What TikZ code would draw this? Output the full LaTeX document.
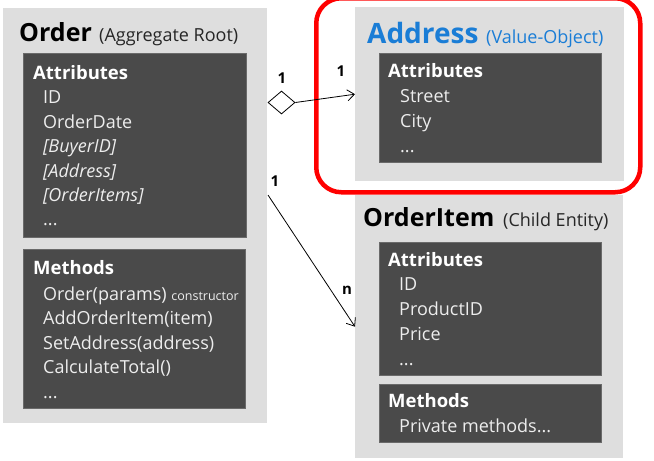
\documentclass[tikz,border=0pt]{standalone}
\usepackage{fontspec}
\setmainfont{Open Sans}
\usetikzlibrary{shapes.geometric,arrows.meta}
\definecolor{outerg}{HTML}{DEDEDE}
\definecolor{darkg}{HTML}{4A4A4A}
\definecolor{darkedge}{HTML}{6A6A6A}
\definecolor{itemtxt}{HTML}{EDEDED}
\definecolor{addrblue}{HTML}{1A7DD6}
\definecolor{hired}{HTML}{FF0000}
\tikzset{
  outerbox/.style={fill=outerg, draw=none, anchor=north west, inner sep=0pt},
  darkbox/.style={fill=darkg, draw=darkedge, line width=0.6pt, anchor=north west, inner sep=0pt},
  ttl/.style={anchor=base west, inner sep=0pt, font=\fontsize{25}{28}\bfseries\selectfont, text=black},
  sub/.style={anchor=base west, inner sep=0pt, font=\fontsize{18}{20}\selectfont, text=black!85},
  hdr/.style={anchor=base west, inner sep=0pt, font=\fontsize{18.5}{20}\bfseries\selectfont, text=white},
  itm/.style={anchor=base west, inner sep=0pt, font=\fontsize{18}{20}\selectfont, text=itemtxt},
  itmi/.style={itm, font=\fontsize{18}{20}\itshape\selectfont},
  mult/.style={inner sep=0pt, font=\fontsize{15}{17}\bfseries\selectfont, text=black},
  conn/.style={draw=black, line width=0.8pt, -{Straight Barb[length=7pt,width=11pt]}},
}
\begin{document}
\begin{tikzpicture}[x=1pt,y=-1pt]
\useasboundingbox (0,0) rectangle (654,461);
% Order
\node[outerbox, minimum width=264pt, minimum height=415pt] (order) at (3,8) {};
\node[ttl] (ordt) at (19,41) {Order};
\node[sub] (ords) at (99,41) {(Aggregate Root)};
\node[darkbox, minimum width=223pt, minimum height=184pt] (ordattr) at (23,53) {};
\node[hdr] (oah) at (33,79) {Attributes};
\node[itm] (oa1) at (43,103) {ID};
\node[itm] (oa2) at (43,128) {OrderDate};
\node[itmi] (oa3) at (43,152.5) {[BuyerID]};
\node[itmi] (oa4) at (43,177) {[Address]};
\node[itmi] (oa5) at (43,201) {[OrderItems]};
\node[itm] (oa6) at (43,225) {...};
\node[darkbox, minimum width=222pt, minimum height=159pt] (ordmeth) at (23,249) {};
\node[hdr] (omh) at (33,274) {Methods};
\node[itm] (om1) at (43,300) {Order(params) {\fontsize{12.5}{14}\selectfont constructor}};
\node[itm] (om2) at (43,324) {AddOrderItem(item)};
\node[itm] (om3) at (43,349) {SetAddress(address)};
\node[itm] (om4) at (43,373) {CalculateTotal()};
\node[itm] (om5) at (43,398) {...};
% Address
\node[anchor=north west, inner sep=0pt, draw=hired, line width=4.5pt, rounded corners=25pt, minimum width=324pt, minimum height=194pt] (redbox) at (314,-4) {};
\node[outerbox, minimum width=269pt, minimum height=174pt] (addr) at (355,7) {};
\node[ttl, text=addrblue, font=\fontsize{28}{30}\bfseries\selectfont] (addt) at (367,43) {Address};
\node[sub, text=addrblue] (adds) at (486,43) {(Value-Object)};
\node[darkbox, minimum width=222pt, minimum height=109pt] (addattr) at (379,53) {};
\node[hdr] (aah) at (388,77) {Attributes};
\node[itm] (aa1) at (400,102) {Street};
\node[itm] (aa2) at (400,127) {City};
\node[itm] (aa3) at (400,152) {...};
% OrderItem
\node[outerbox, minimum width=268pt, minimum height=263pt] (item) at (355,195) {};
\node[ttl] (itt) at (363,226) {OrderItem};
\node[sub] (its) at (503,226) {(Child Entity)};
\node[darkbox, minimum width=222pt, minimum height=133pt] (itattr) at (379,242) {};
\node[hdr] (iah) at (388,266) {Attributes};
\node[itm] (ia1) at (399,290) {ID};
\node[itm] (ia2) at (399,315) {ProductID};
\node[itm] (ia3) at (399,340) {Price};
\node[itm] (ia4) at (399,365) {...};
\node[darkbox, minimum width=222pt, minimum height=58pt] (itmeth) at (379,384) {};
\node[hdr] (imh) at (388,407) {Methods};
\node[itm] (im1) at (399,432) {Private methods...};
% connectors
\node[diamond, draw=black, fill=white, line width=0.8pt, inner sep=0pt, minimum width=27pt, minimum height=23pt] (dia) at (281.5,102.5) {};
\draw[conn] (dia.east) -- (addr.west);
\coordinate (c1) at (268,195);
\draw[conn] (c1) -- (item.west);
\node[mult] (m1) at (282,78) {1};
\node[mult] (m2) at (341,71) {1};
\node[mult] (m3) at (275,181) {1};
\node[mult] (m4) at (347,290) {n};
\end{tikzpicture}
\end{document}
